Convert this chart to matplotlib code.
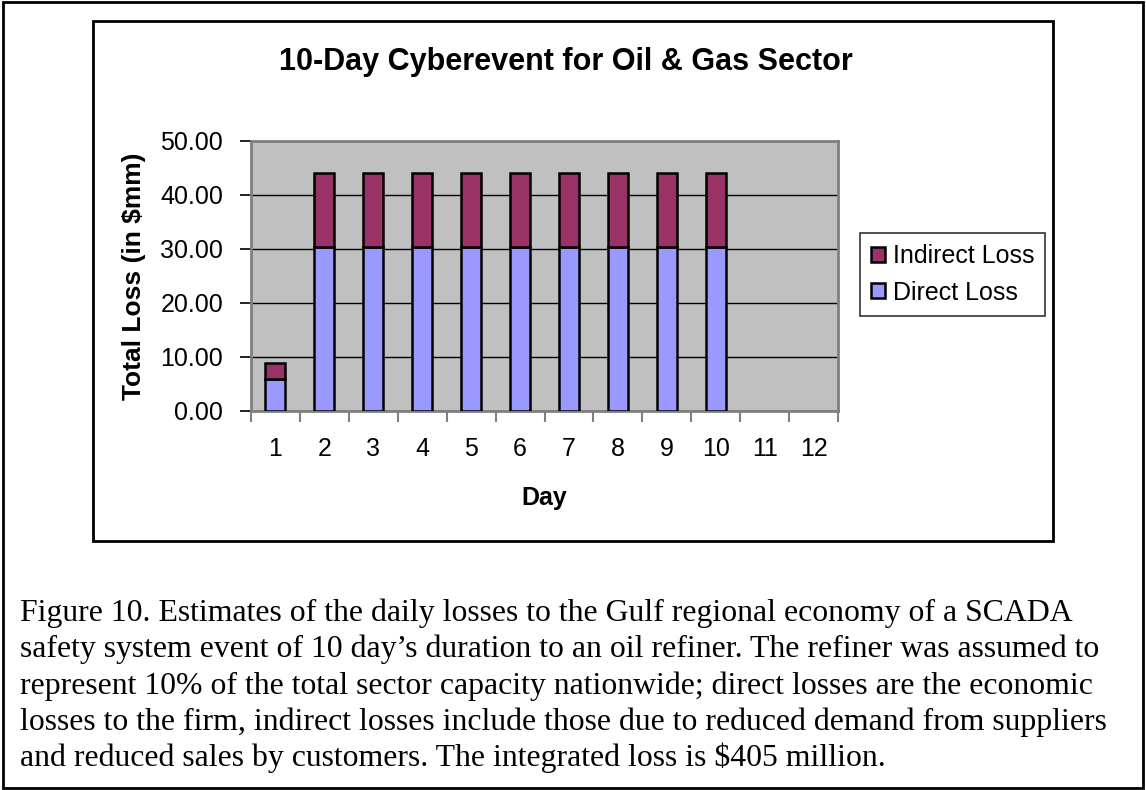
import matplotlib
matplotlib.use("Agg")
import matplotlib.pyplot as plt
from matplotlib.patches import Rectangle
from matplotlib.ticker import FixedLocator, FormatStrFormatter

# ---- data ----
days = ["1", "2", "3", "4", "5", "6", "7", "8", "9", "10", "11", "12"]
direct_loss = [5.9, 30.3, 30.3, 30.3, 30.3, 30.3, 30.3, 30.3, 30.3, 30.3, 0, 0]
indirect_loss = [3.0, 13.7, 13.7, 13.7, 13.7, 13.7, 13.7, 13.7, 13.7, 13.7, 0, 0]
y_ticks = [0, 10, 20, 30, 40, 50]
title = "10-Day Cyberevent for Oil & Gas Sector"
caption_lines = [
    "Figure 10. Estimates of the daily losses to the Gulf regional economy of a SCADA",
    "safety system event of 10 day\u2019s duration to an oil refiner. The refiner was assumed to",
    "represent 10% of the total sector capacity nationwide; direct losses are the economic",
    "losses to the firm, indirect losses include those due to reduced demand from suppliers",
    "and reduced sales by customers. The integrated loss is $405 million.",
]

W, H = 1146, 790
fig = plt.figure(figsize=(W / 100, H / 100), dpi=100)
fig.patch.set_facecolor("white")

def fx(px):
    return px / W

def fy(py):
    return 1 - py / H

SANS = "Liberation Sans"
SERIF = "Liberation Serif"

# frames
fig.patches.append(Rectangle((fx(3), fy(788)), fx(1143) - fx(3), fy(2) - fy(788),
                             transform=fig.transFigure, fill=False, edgecolor="black", lw=2))
fig.patches.append(Rectangle((fx(93), fy(541)), fx(1053) - fx(93), fy(21) - fy(541),
                             transform=fig.transFigure, fill=False, edgecolor="black", lw=2))

left, right, top, bottom = 251, 838, 141, 411
ax = fig.add_axes([fx(left), fy(bottom), fx(right) - fx(left), fy(top) - fy(bottom)])
ax.set_facecolor("#C0C0C0")

x = list(range(len(days)))
b1 = ax.bar(x, direct_loss, width=0.41, color="#9999FF", edgecolor="black", linewidth=1.8,
            label="Direct Loss", zorder=3)
b2 = ax.bar(x, indirect_loss, width=0.41, bottom=direct_loss, color="#993366", edgecolor="black",
            linewidth=1.8, label="Indirect Loss", zorder=3)
for p in list(b1) + list(b2):
    if p.get_height() == 0:
        p.set_linewidth(0)

ax.set_xlim(-0.5, len(days) - 0.5)
ax.set_ylim(0, 50)
ax.set_yticks(y_ticks)
ax.yaxis.set_major_formatter(FormatStrFormatter("%.2f"))
ax.grid(axis="y", color="black", linewidth=1.0, zorder=1)
ax.set_axisbelow(True)

ax.set_xticks(x)
ax.set_xticklabels(days)
ax.xaxis.set_minor_locator(FixedLocator([i + 0.5 for i in range(-1, len(days))]))
ax.tick_params(axis="x", which="major", length=0, pad=19, labelsize=18)
ax.tick_params(axis="x", which="minor", length=8, width=1.5, color="#808080", direction="out")
ax.tick_params(axis="y", length=8, width=1.2, color="black", pad=12, labelsize=18)
for lab in ax.get_xticklabels() + ax.get_yticklabels():
    lab.set_fontfamily(SANS)

for s in ax.spines.values():
    s.set_color("#808080")
    s.set_linewidth(2)

ax.set_ylabel("Total Loss (in $mm)", fontsize=19, fontweight="bold", fontfamily=SANS, labelpad=10)
ax.set_xlabel("Day", fontsize=18, fontweight="bold", fontfamily=SANS, labelpad=18)

fig.text(fx(566), fy(62), title, ha="center", va="center", fontsize=22,
         fontweight="bold", fontfamily=SANS)

handles, labels = ax.get_legend_handles_labels()
leg = fig.legend(handles[::-1], labels[::-1], loc="upper left",
                 bbox_to_anchor=(fx(860), fy(233)), frameon=True, fancybox=False,
                 prop={"family": SANS, "size": 18}, handlelength=0.55, handleheight=0.55,
                 handletextpad=0.3, borderpad=0.45, labelspacing=0.5, borderaxespad=0)
leg.get_frame().set_edgecolor("black")
leg.get_frame().set_linewidth(1.2)

base_y = 621
for i, line in enumerate(caption_lines):
    fig.text(fx(20), fy(base_y + i * 36.3), line, ha="left", va="baseline",
             fontsize=22.9, fontfamily=SERIF)

fig.savefig("out.png", dpi=100)
